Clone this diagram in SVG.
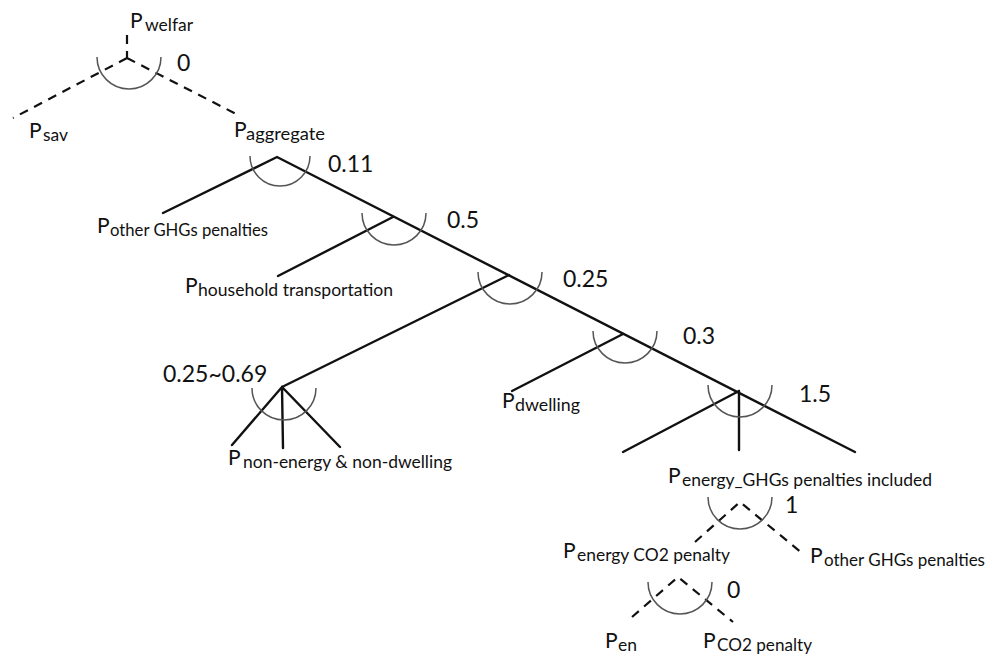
<svg xmlns="http://www.w3.org/2000/svg" width="992" height="655" viewBox="0 0 992 655">
<style>
.s{stroke:#111;stroke-width:2.4;fill:none;stroke-linecap:round}
.d{stroke:#111;stroke-width:2.2;fill:none;stroke-dasharray:9 7}
.a{stroke:#555;stroke-width:1.5;fill:none}
text{font-family:Lato,"Open Sans","Liberation Sans",sans-serif;fill:#111}
.p{font-size:21px}
.sub{font-size:17px}
.n{font-size:23px}
</style>
<rect width="992" height="655" fill="#fff"/>
<g id="connectors">
<path class="d" d="M127,35 L127,58 M127,58 L13,118 M127,58 L240,116"/>
<path class="s" d="M163,213 L277,157 L855,452"/>
<path class="s" d="M278,276 L393,217"/>
<path class="s" d="M282,387 L509,275"/>
<path class="s" d="M232,445 L282,387 L340,447 M282,387 L283,448"/>
<path class="s" d="M512,391 L623,334"/>
<path class="s" d="M623,452 L739,391 M739,391 L739,450"/>
<path class="d" d="M695,542 L740,502 L802,553"/>
<path class="d" d="M632,617 L678,577 L733,622"/>
</g>
<g id="arcs">
<path class="a" d="M97,57 A32,32 0 0 0 161,57"/>
<path class="a" d="M250,156 A30,30 0 0 0 310,156"/>
<path class="a" d="M362,213 A32,32 0 0 0 426,213"/>
<path class="a" d="M478,272 A32,32 0 0 0 542,272"/>
<path class="a" d="M252,388 A32,32 0 0 0 316,388"/>
<path class="a" d="M593,331 A32,32 0 0 0 657,331"/>
<path class="a" d="M708,385 A32,32 0 0 0 772,385"/>
<path class="a" d="M708,497 A32,32 0 0 0 772,497"/>
<path class="a" d="M648,582 A32,32 0 0 0 712,582"/>
</g>
<g id="n-welfar"><text class="p" x="130" y="28">P<tspan class="sub" x="145" y="31" textLength="48" lengthAdjust="spacingAndGlyphs">welfar</tspan></text><text class="n" x="177" y="71">0</text></g>
<g id="n-sav"><text class="p" x="29" y="138">P<tspan class="sub" x="43" y="141" textLength="25" lengthAdjust="spacingAndGlyphs">sav</tspan></text></g>
<g id="n-aggregate"><text class="p" x="234" y="137">P<tspan class="sub" x="246" y="140" textLength="79" lengthAdjust="spacingAndGlyphs">aggregate</tspan></text><text class="n" x="328" y="172">0.11</text></g>
<g id="n-other1"><text class="p" x="97" y="233">P<tspan class="sub" x="110" y="236" textLength="158" lengthAdjust="spacingAndGlyphs">other GHGs penalties</tspan></text></g>
<g id="n-nest05"><text class="n" x="447" y="228">0.5</text></g>
<g id="n-household"><text class="p" x="185" y="293">P<tspan class="sub" x="198" y="296" textLength="195" lengthAdjust="spacingAndGlyphs">household transportation</tspan></text></g>
<g id="n-nest025"><text class="n" x="563" y="287">0.25</text></g>
<g id="n-nest069"><text class="n" x="163" y="382">0.25~0.69</text></g>
<g id="n-nonenergy"><text class="p" x="228" y="465">P<tspan class="sub" x="243" y="468" textLength="209" lengthAdjust="spacingAndGlyphs">non-energy &amp; non-dwelling</tspan></text></g>
<g id="n-nest03"><text class="n" x="683" y="344">0.3</text></g>
<g id="n-dwelling"><text class="p" x="502" y="408">P<tspan class="sub" x="515" y="411" textLength="65" lengthAdjust="spacingAndGlyphs">dwelling</tspan></text></g>
<g id="n-nest15"><text class="n" x="799" y="402">1.5</text></g>
<g id="n-energyghg"><text class="p" x="668" y="483">P<tspan class="sub" x="682" y="486" textLength="250" lengthAdjust="spacingAndGlyphs">energy_GHGs penalties included</tspan></text><text class="n" x="785" y="513">1</text></g>
<g id="n-energyco2"><text class="p" x="563" y="558">P<tspan class="sub" x="577" y="561" textLength="153" lengthAdjust="spacingAndGlyphs">energy CO2 penalty</tspan></text><text class="n" x="727" y="598">0</text></g>
<g id="n-other2"><text class="p" x="810" y="563">P<tspan class="sub" x="824" y="566" textLength="161" lengthAdjust="spacingAndGlyphs">other GHGs penalties</tspan></text></g>
<g id="n-en"><text class="p" x="605" y="648">P<tspan class="sub" x="618" y="651" textLength="19" lengthAdjust="spacingAndGlyphs">en</tspan></text></g>
<g id="n-co2"><text class="p" x="703" y="648">P<tspan class="sub" x="717" y="651" textLength="95" lengthAdjust="spacingAndGlyphs">CO2 penalty</tspan></text></g>
</svg>
